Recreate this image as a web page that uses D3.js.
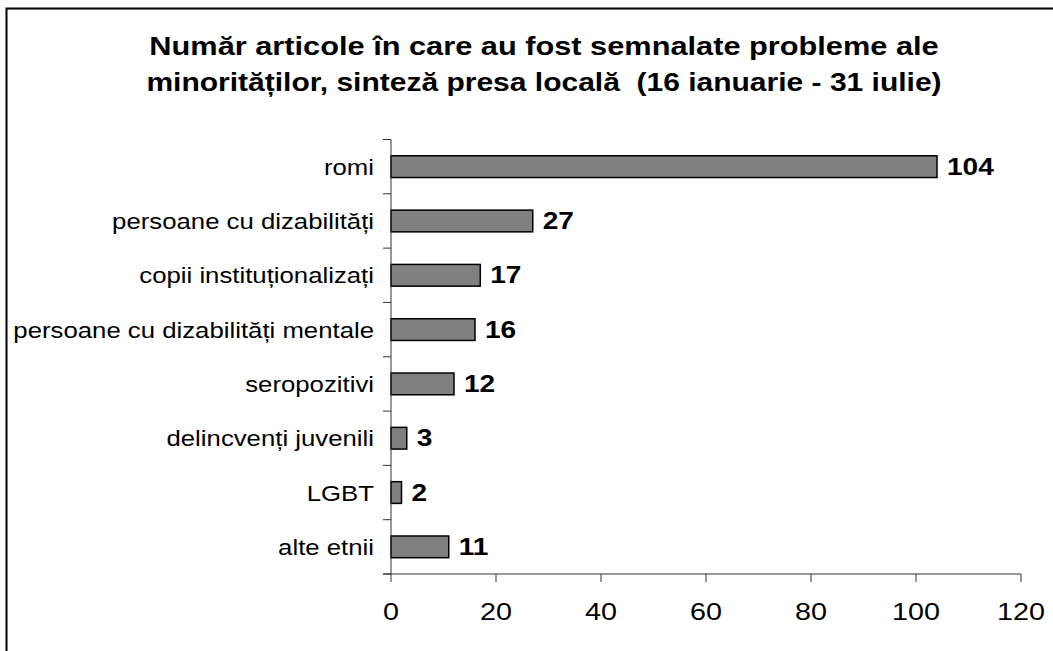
<!DOCTYPE html>
<html>
<head>
<meta charset="utf-8">
<script src="https://cdn.jsdelivr.net/npm/d3@7"></script>
<style>
  html, body { margin: 0; padding: 0; background: #fff; }
  svg { display: block; }
  text { font-family: "Liberation Sans", Arial, sans-serif; fill: #000; }
</style>
</head>
<body>
<svg id="chart" width="1053" height="651"></svg>
<script>
const categories = ["romi", "persoane cu dizabilități", "copii instituționalizați",
  "persoane cu dizabilități mentale", "seropozitivi", "delincvenți juvenili", "LGBT", "alte etnii"];
const values = [104, 27, 17, 16, 12, 3, 2, 11];
const xTicks = [0, 20, 40, 60, 80, 100, 120];
const titleLines = ["Număr articole în care au fost semnalate probleme ale",
  "minorităților, sinteză presa locală  (16 ianuarie - 31 iulie)"];

const svg = d3.select("#chart");

// frame
svg.append("rect").attr("x", 6.5).attr("y", 8.5).attr("width", 1060).attr("height", 660)
  .attr("fill", "none").attr("stroke", "#000").attr("stroke-width", 2);

const x = d3.scaleLinear().domain([0, 120]).range([391, 1021]);
const y = d3.scaleBand().domain(categories).range([139.5, 574]).paddingInner(0.6).paddingOuter(0.3);

// title
svg.selectAll("text.title").data(titleLines).enter().append("text")
  .attr("class", "title")
  .attr("transform", (d, i) => `translate(544,${55 + i * 36}) scale(${i === 0 ? 1.23 : 1.2},1)`)
  .attr("text-anchor", "middle")
  .style("font-size", "25px").style("font-weight", "bold")
  .style("white-space", "pre")
  .text(d => d);

// bars
svg.selectAll("rect.bar").data(values).enter().append("rect")
  .attr("class", "bar")
  .attr("x", x(0))
  .attr("y", (d, i) => y(categories[i]))
  .attr("width", d => x(d) - x(0))
  .attr("height", y.bandwidth())
  .attr("fill", "#808080").attr("stroke", "#000").attr("stroke-width", 1.5);

// value labels
svg.selectAll("text.val").data(values).enter().append("text")
  .attr("class", "val")
  .attr("transform", (d, i) => `translate(${x(d) + 10},${y(categories[i]) + y.bandwidth() / 2 + 8}) scale(1.22,1)`)
  .style("font-size", "23px").style("font-weight", "bold")
  .text(d => d);

// y axis
const axisColor = "#333";
svg.append("line").attr("x1", x(0)).attr("x2", x(0)).attr("y1", y.range()[0]).attr("y2", y.range()[1])
  .attr("stroke", axisColor).attr("stroke-width", 1);
const step = y.step();
const boundaries = categories.map(c => y(c) - (step - y.bandwidth()) / 2);
boundaries.push(y.range()[1]);
svg.selectAll("line.ytick").data(boundaries).enter().append("line")
  .attr("class", "ytick")
  .attr("x1", x(0) - 8).attr("x2", x(0))
  .attr("y1", d => d).attr("y2", d => d)
  .attr("stroke", axisColor).attr("stroke-width", 1);

// category labels
svg.selectAll("text.cat").data(categories).enter().append("text")
  .attr("class", "cat")
  .attr("transform", c => `translate(374,${y(c) + y.bandwidth() / 2 + 8}) scale(1.12,1)`)
  .attr("text-anchor", "end")
  .style("font-size", "23px")
  .text(c => c);

// x axis
const xAxisY = y.range()[1];
svg.append("line").attr("x1", x(0) - 8).attr("x2", x(120)).attr("y1", xAxisY).attr("y2", xAxisY)
  .attr("stroke", axisColor).attr("stroke-width", 1);
svg.selectAll("line.xtick").data(xTicks).enter().append("line")
  .attr("class", "xtick")
  .attr("x1", d => x(d)).attr("x2", d => x(d))
  .attr("y1", xAxisY).attr("y2", xAxisY + 8)
  .attr("stroke", axisColor).attr("stroke-width", 1);
svg.selectAll("text.xlab").data(xTicks).enter().append("text")
  .attr("class", "xlab")
  .attr("transform", d => `translate(${x(d)},620) scale(1.25,1)`)
  .attr("text-anchor", "middle")
  .style("font-size", "23px")
  .text(d => d);
</script>
</body>
</html>
